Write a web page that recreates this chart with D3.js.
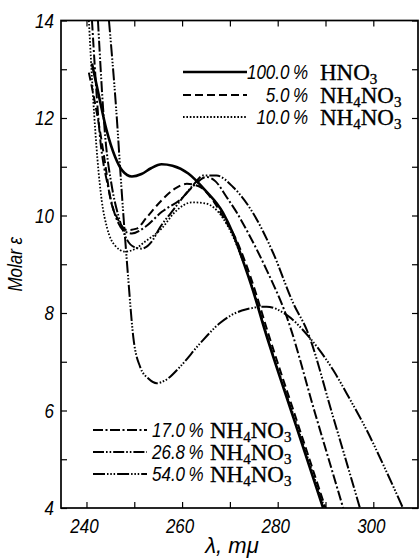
<!DOCTYPE html>
<html><head><meta charset="utf-8">
<script src="https://cdn.jsdelivr.net/npm/d3@7"></script>
<style>
html,body{margin:0;padding:0;background:#fff;}
svg{display:block;}
.num{font-family:"Liberation Sans","Arimo",sans-serif;font-style:italic;}
.chem{font-family:"Liberation Serif","DejaVu Serif",serif;stroke:#000;stroke-width:0.35px;}
</style></head>
<body>
<script>
// ---- data ----
const xTicks = [240,250,260,270,280,290,300];
const xLabelTicks = [240,260,280,300];
const yTicks = [4,5,6,7,8,9,10,11,12,13,14];
const yLabelTicks = [4,6,8,10,12,14];
const seriesNames = ["100.0 %","5.0 %","10.0 %","17.0 %","26.8 %","54.0 %"];
const seriesCompounds = ["HNO3","NH4NO3","NH4NO3","NH4NO3","NH4NO3","NH4NO3"];

const hno3_100 = [[241.15,13.12],[242.5,12.5],[244.2,11.75],[246,11.2],[247.5,10.92],[249.5,10.8],[251.5,10.85],[253.5,10.97],[255.7,11.05],[258,11.02],[261.3,10.86],[264.8,10.52],[268.6,10.05],[270.6,9.64],[272.7,9.08],[274.8,8.47],[277.3,7.65],[283.3,5.85],[289.5,4.0]];
const nh4_5 = [[240.5,12.93],[241.7,12.35],[242.8,11.75],[244.0,11.0],[244.9,10.4],[246.7,9.9],[248.5,9.7],[250.5,9.73],[252.5,9.95],[255.7,10.31],[258.5,10.55],[261,10.65],[263.5,10.6],[266.5,10.3],[269,9.9],[271.1,9.55],[273.2,9.05],[275.3,8.45],[277.8,7.65],[283.8,5.85],[290,4.0]];
const nh4_10 = [[240.5,14.0],[241.4,12.4],[242.3,11.15],[243.2,10.3],[244.3,9.75],[246,9.38],[248.1,9.26],[250.1,9.31],[252.2,9.46],[255.7,9.73],[258.5,10.07],[262.1,10.27],[264.8,10.25],[268.6,9.94],[270.6,9.58],[272.8,9.05],[275,8.45],[277.5,7.62],[283.5,5.85],[289.8,4.0]];
const nh4_17 = [[241.15,14.0],[242.8,11.64],[244.5,10.6],[246.2,9.95],[247.7,9.7],[249.5,9.63],[252.2,9.76],[255.7,10.07],[259.9,10.35],[262.3,10.6],[265.1,10.79],[267,10.7],[269.3,10.38],[271.5,10.05],[273.5,9.7],[277.7,8.88],[281.9,7.92],[287.8,5.95],[293.7,4.0]];
const nh4_268 = [[242.4,14.0],[243.9,11.64],[245.3,10.6],[246.8,9.95],[248.5,9.5],[250,9.35],[251.5,9.32],[253.6,9.46],[255.4,9.76],[257.8,10.07],[260,10.35],[262.3,10.62],[264.4,10.82],[267.2,10.82],[270.7,10.58],[274.9,10.04],[279.1,9.22],[283.3,8.19],[286.1,7.65],[291.5,5.9],[297.2,4.0]];
const nh4_54 = [[244.7,14.0],[246.2,12.2],[247.4,10.45],[248.7,8.75],[249.8,7.5],[251.2,6.9],[253,6.65],[254.7,6.56],[256.5,6.62],[259.6,6.9],[263.7,7.37],[268,7.8],[272.5,8.05],[277.7,8.13],[282,7.95],[286.8,7.48],[291.6,6.83],[295,6.25],[298.6,5.6],[302.5,4.8],[306.2,4.0]];

const seriesData = [hno3_100, nh4_5, nh4_10, nh4_17, nh4_268, nh4_54];

// ---- styles ----
const styles = [
  {w:2.6, dash:null},
  {w:2.0, dash:"8,4"},
  {w:1.8, dash:"1.6,1.8"},
  {w:2.0, dash:"10,2.5,2,2.5"},
  {w:2.0, dash:"11,2,1.6,2,1.6,2"},
  {w:2.0, dash:"12,2,1.5,1.8,1.5,1.8,1.5,2"}
];
const SX = 0.85; // horizontal condensation of italic numerals

const W = 419, H = 559;
const svg = d3.select("body").append("svg").attr("width", W).attr("height", H);

const x = d3.scaleLinear().domain([234.67, 309.35]).range([61, 418]);
const y = d3.scaleLinear().domain([4, 14]).range([508, 20.5]);
const [x0, x1] = x.range();
const [yb, yt] = y.range();

svg.append("clipPath").attr("id","clip").append("rect")
  .attr("x", x0).attr("y", yt).attr("width", x1 - x0).attr("height", yb - yt);

// frame
svg.append("rect").attr("x", x0).attr("y", yt).attr("width", x1 - x0).attr("height", yb - yt)
  .attr("fill","none").attr("stroke","#000").attr("stroke-width",1.7);

const tickLen = 6;
const gB = svg.append("g").attr("transform", `translate(0,${yb})`)
  .call(d3.axisBottom(x).tickValues(xTicks).tickSize(-tickLen).tickFormat(""));
const gT = svg.append("g").attr("transform", `translate(0,${yt})`)
  .call(d3.axisTop(x).tickValues(xTicks).tickSize(-tickLen).tickFormat(""));
const gL = svg.append("g").attr("transform", `translate(${x0},0)`)
  .call(d3.axisLeft(y).tickValues(yTicks).tickSize(-tickLen).tickFormat(""));
const gR = svg.append("g").attr("transform", `translate(${x1},0)`)
  .call(d3.axisRight(y).tickValues(yTicks).tickSize(-tickLen).tickFormat(""));
[gB,gT,gL,gR].forEach(g => {
  g.select(".domain").remove();
  g.selectAll(".tick line").attr("stroke","#000").attr("stroke-width",1.2);
  g.selectAll(".tick text").remove();
});

// tick labels
svg.append("g").selectAll("text").data(xLabelTicks).join("text")
  .attr("class","num").attr("font-size",20).attr("text-anchor","middle")
  .attr("transform", d => `translate(${x(d)-2},${yb+25}) scale(${SX},1)`)
  .text(d => d);
svg.append("g").selectAll("text").data(yLabelTicks).join("text")
  .attr("class","num").attr("font-size",20).attr("text-anchor","end")
  .attr("transform", d => `translate(${x0-7},${y(d)+7}) scale(${SX},1)`)
  .text(d => d);

// axis titles
svg.append("text").attr("class","num").attr("font-size",20)
  .attr("transform", `translate(22,${(yt+yb)/2}) rotate(-90) scale(${SX},1)`)
  .attr("text-anchor","middle").text("Molar ε");
svg.append("text").attr("class","num").attr("font-size",22)
  .attr("x", 232).attr("y", 553).attr("text-anchor","middle").text("λ, mμ");

// curves
const line = d3.line().x(d => x(d[0])).y(d => y(d[1])).curve(d3.curveMonotoneX);
const gC = svg.append("g").attr("clip-path","url(#clip)");
seriesData.forEach((s,i) => {
  gC.append("path").datum(s).attr("d", line)
    .attr("fill","none").attr("stroke","#000")
    .attr("stroke-width", styles[i].w)
    .attr("stroke-dasharray", styles[i].dash)
    .attr("stroke-linejoin","round");
});

// legend
function chem(sel, str){
  const parts = str.match(/[A-Za-z]+|\d+/g);
  let prevSub = false;
  parts.forEach(p => {
    if (/\d/.test(p)) { sel.append("tspan").attr("font-size",15).attr("dy",4).text(p); prevSub = true; }
    else { const t = sel.append("tspan").text(p); if (prevSub) t.attr("dy",-4); prevSub = false; }
  });
}
const legTop = [{i:0,y:72},{i:1,y:95},{i:2,y:117}];
const legBot = [{i:3,y:430},{i:4,y:452},{i:5,y:474}];
legTop.forEach(L => {
  svg.append("line").attr("x1",183).attr("x2",247).attr("y1",L.y).attr("y2",L.y)
    .attr("stroke","#000").attr("stroke-width",styles[L.i].w).attr("stroke-dasharray",styles[L.i].dash);
  svg.append("text").attr("class","num").attr("font-size",20).attr("text-anchor","end")
    .attr("transform", `translate(308,${L.y+7}) scale(${SX},1)`)
    .text(seriesNames[L.i].replace(" ","\u2009"));
  const t = svg.append("text").attr("class","chem").attr("font-size",23).attr("x",320).attr("y",L.y+8);
  chem(t, seriesCompounds[L.i]);
});
legBot.forEach(L => {
  svg.append("line").attr("x1",93).attr("x2",147).attr("y1",L.y).attr("y2",L.y)
    .attr("stroke","#000").attr("stroke-width",styles[L.i].w).attr("stroke-dasharray",styles[L.i].dash);
  svg.append("text").attr("class","num").attr("font-size",20)
    .attr("transform", `translate(152,${L.y+7}) scale(${SX},1)`)
    .text(seriesNames[L.i].replace(" ","\u2009"));
  const t = svg.append("text").attr("class","chem").attr("font-size",23).attr("x",210).attr("y",L.y+8);
  chem(t, seriesCompounds[L.i]);
});
</script>
</body></html>
